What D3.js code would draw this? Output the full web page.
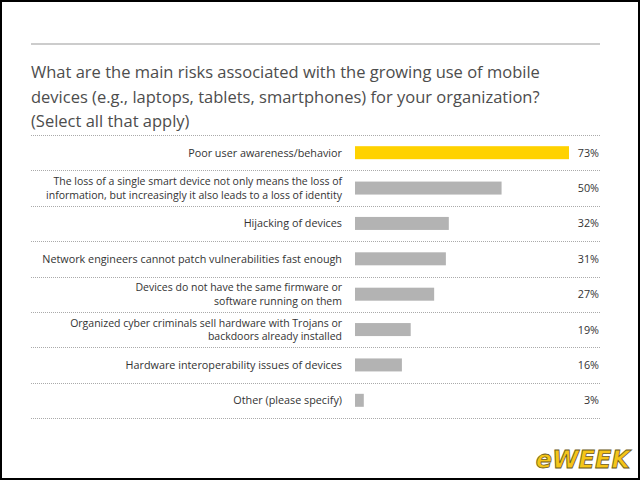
<!DOCTYPE html>
<html>
<head>
<script src="https://d3js.org/d3.v7.min.js"></script>
<style type="text/css">
  body { margin: 0; background: #fff; }
  svg { display: block; }
</style>
</head>
<body>
<script type="text/javascript">

// data
var titleLines = [
  "What are the main risks associated with the growing use of mobile",
  "devices (e.g., laptops, tablets, smartphones) for your organization?",
  "(Select all that apply)"
];
var categories = [
  ["Poor user awareness/behavior"],
  ["The loss of a single smart device not only means the loss of", "information, but increasingly it also leads to a loss of identity"],
  ["Hijacking of devices"],
  ["Network engineers cannot patch vulnerabilities fast enough"],
  ["Devices do not have the same firmware or", "software running on them"],
  ["Organized cyber criminals sell hardware with Trojans or", "backdoors already installed"],
  ["Hardware interoperability issues of devices"],
  ["Other (please specify)"]
];
var values = [73, 50, 32, 31, 27, 19, 16, 3];

var width = 640, height = 480;
var font = "'Open Sans', Arial, sans-serif";

var svg = d3.select("body").append("svg")
    .attr("width", width)
    .attr("height", height);

svg.append("rect")
    .attr("x", 1).attr("y", 1)
    .attr("width", width - 2).attr("height", height - 2)
    .attr("fill", "#fff").attr("stroke", "#000").attr("stroke-width", 2);

// top rule
svg.append("line")
    .attr("x1", 31).attr("x2", 600)
    .attr("y1", 44).attr("y2", 44)
    .attr("stroke", "#999").attr("stroke-width", 1);

svg.append("g").selectAll("text")
    .data(titleLines)
  .enter().append("text")
    .attr("x", 31)
    .attr("y", function(d, i) { return 78 + i * 24.5; })
    .attr("font-family", font)
    .attr("font-size", 16.5)
    .attr("font-weight", 500)
    .attr("fill", "#4d4d4d")
    .text(function(d) { return d; });

var y = d3.scaleBand()
    .domain(d3.range(categories.length))
    .range([135, 418]);

var x = d3.scaleLinear()
    .domain([0, 73])
    .range([355, 569]);

// dotted row separators
svg.append("g").selectAll("line")
    .data(d3.range(categories.length + 1))
  .enter().append("line")
    .attr("x1", 31).attr("x2", 600)
    .attr("y1", function(d) { return Math.round(135 + d * y.step()) + 0.5; })
    .attr("y2", function(d) { return Math.round(135 + d * y.step()) + 0.5; })
    .attr("stroke", "#aaa")
    .attr("stroke-width", 1)
    .attr("stroke-dasharray", "1,1");

var row = svg.append("g").selectAll("g")
    .data(values)
  .enter().append("g")
    .attr("transform", function(d, i) { return "translate(0," + (y(i) + y.bandwidth() / 2) + ")"; });

row.append("rect")
    .attr("x", x(0))
    .attr("y", -6.5)
    .attr("width", function(d) { return x(d) - x(0); })
    .attr("height", 13)
    .attr("fill", function(d, i) { return i === 0 ? "#ffd200" : "#b3b3b3"; });

row.append("text")
    .attr("x", 599)
    .attr("y", 4)
    .attr("text-anchor", "end")
    .attr("font-family", font)
    .attr("font-size", 10.8)
    .attr("fill", "#333")
    .text(function(d) { return d + "%"; });

// two-line labels as separate texts, one per line
row.each(function(d, i) {
  var lines = categories[i];
  var g = d3.select(this);
  lines.forEach(function(l, j) {
    g.append("text")
      .attr("text-anchor", "end")
      .attr("font-family", font)
      .attr("font-size", lines.length > 1 ? 10.5 : 10.8)
      .attr("fill", "#333")
      .attr("x", 342)
      .attr("y", 4 + (j - (lines.length - 1) / 2) * 13.5)
      .text(l);
  });
});

// eWEEK mark
svg.append("text")
    .attr("x", 630)
    .attr("y", 468)
    .attr("text-anchor", "end")
    .attr("font-family", "'DejaVu Sans', sans-serif")
    .attr("font-weight", "bold")
    .attr("font-style", "italic")
    .attr("font-size", 24)
    .attr("fill", "#f5c518")
    .attr("stroke", "#6b5a1a")
    .attr("stroke-width", 0.8)
    .text("eWEEK");

</script>
</body>
</html>
